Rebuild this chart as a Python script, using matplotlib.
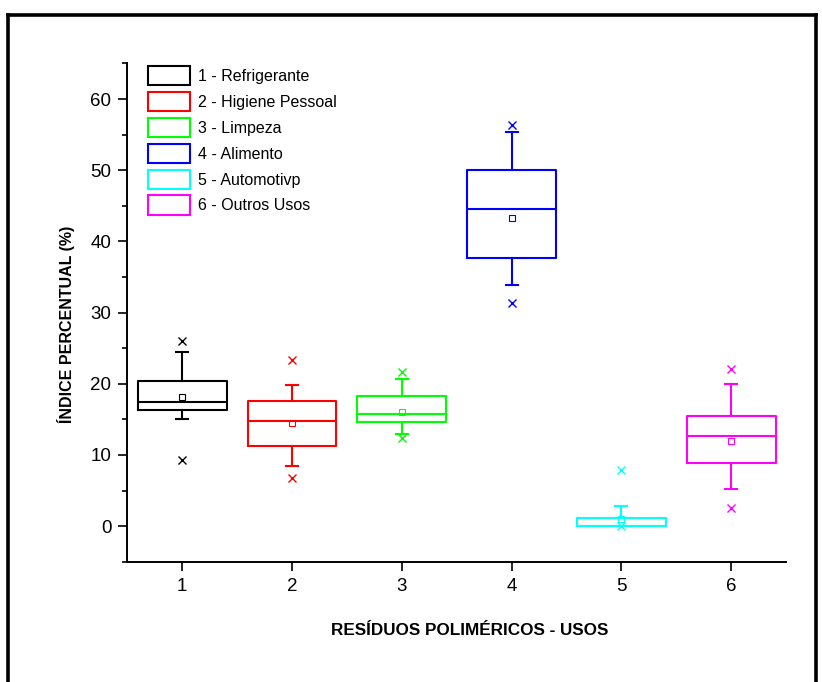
import matplotlib
matplotlib.use("Agg")
import matplotlib.pyplot as plt
from matplotlib.patches import Rectangle
from matplotlib.lines import Line2D

# Dados (índice percentual por uso)
categorias = [1, 2, 3, 4, 5, 6]
rotulos = ['1 - Refrigerante', '2 - Higiene Pessoal', '3 - Limpeza',
           '4 - Alimento', '5 - Automotivp', '6 - Outros Usos']
cores = ['#000000', '#FF0000', '#00FF00', '#0000FF', '#00FFFF', '#FF00FF']

q1 = [16.25, 11.3, 14.6, 37.7, 0.0, 8.85]
mediana = [17.5, 14.8, 15.7, 44.5, 0.0, 12.7]
q3 = [20.4, 17.55, 18.3, 50.0, 1.1, 15.45]
whis_min = [15.0, 8.5, 13.0, 33.9, 0.0, 5.2]
whis_max = [24.4, 19.8, 20.6, 55.3, 2.8, 19.9]
media = [18.1, 14.5, 16.1, 43.3, 1.0, 11.9]
extremo_max = [26.0, 23.3, 21.7, 56.4, 7.9, 22.1]
extremo_min = [9.3, 6.8, 12.4, 31.4, 0.0, 2.6]

plt.rcParams['font.family'] = ['Liberation Sans', 'DejaVu Sans']

fig = plt.figure(figsize=(8.22, 6.82), dpi=100)
ax = fig.add_axes([0.1549, 0.1764, 0.8013, 0.7306])

for i, pos in enumerate(categorias):
    c = cores[i]
    stats = [{
        'med': mediana[i], 'q1': q1[i], 'q3': q3[i],
        'whislo': whis_min[i], 'whishi': whis_max[i],
        'mean': media[i], 'fliers': [extremo_max[i], extremo_min[i]],
    }]
    ax.bxp(stats, positions=[pos], widths=0.81, capwidths=0.11,
           showmeans=True, manage_ticks=False,
           boxprops=dict(color=c, lw=1.5),
           medianprops=dict(color=c, lw=1.5),
           whiskerprops=dict(color=c, lw=1.5),
           capprops=dict(color=c, lw=1.5),
           flierprops=dict(marker='x', markeredgecolor=c, markersize=5.5, markeredgewidth=1.0),
           meanprops=dict(marker='s', markerfacecolor='none', markeredgecolor=c,
                          markersize=4, markeredgewidth=0.8))

ax.set_xlim(0.5, 6.5)
ax.set_ylim(-5, 65)
ax.set_xticks(categorias)
ax.set_yticks([0, 10, 20, 30, 40, 50, 60])
ax.set_yticks([-5, 5, 15, 25, 35, 45, 55, 65], minor=True)

for s in ['top', 'right']:
    ax.spines[s].set_visible(False)
for s in ['left', 'bottom']:
    ax.spines[s].set_linewidth(1.4)
ax.tick_params(axis='both', which='major', direction='out', length=6.5, width=1.2, labelsize=13.5, pad=5)
ax.tick_params(axis='y', which='minor', direction='out', length=3.8, width=1.2)

ax.set_xlabel('RESÍDUOS POLIMÉRICOS - USOS', fontsize=12.3, fontweight='bold', va='center')
ax.xaxis.set_label_coords(0.5195, -0.139)
ax.set_ylabel('ÍNDICE PERCENTUAL (%)', fontsize=11.5, fontweight='bold', va='center', ha='center')
ax.yaxis.set_label_coords(-0.0925, 0.477)

handles = [Rectangle((0, 0), 1, 1, facecolor='none', edgecolor=c, lw=1.5) for c in cores]
ax.legend(handles, rotulos, loc='upper left', bbox_to_anchor=(148 / 822, 1 - 66 / 682),
          bbox_transform=fig.transFigure, frameon=False, fontsize=11.5,
          handlelength=2.6, handleheight=1.5, handletextpad=0.55,
          labelspacing=0.4, borderpad=0, borderaxespad=0)

# moldura da figura (esquerda, topo, direita)
fig.add_artist(Line2D([7.5 / 822, 7.5 / 822], [0, 1 - 14.5 / 682], color='black', lw=2.6,
                      transform=fig.transFigure, solid_capstyle='projecting'))
fig.add_artist(Line2D([7.5 / 822, 815.5 / 822], [1 - 14.5 / 682, 1 - 14.5 / 682], color='black',
                      lw=2.6, transform=fig.transFigure, solid_capstyle='projecting'))
fig.add_artist(Line2D([815.5 / 822, 815.5 / 822], [0, 1 - 14.5 / 682], color='black', lw=2.6,
                      transform=fig.transFigure, solid_capstyle='projecting'))

fig.savefig('out.png', dpi=100)
plt.close(fig)
